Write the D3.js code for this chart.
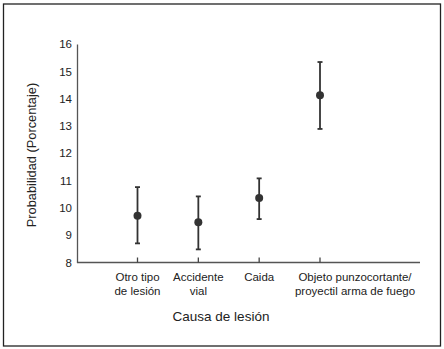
<!DOCTYPE html>
<html>
<head>
<meta charset="utf-8">
<script src="https://cdn.jsdelivr.net/npm/d3@7"></script>
<style>
  body { margin: 0; background: #fff; }
  svg { display: block; font-family: "Liberation Sans", Arial, sans-serif; }
</style>
</head>
<body>
<div id="chart"></div>
<script>
let width = 444;
let height = 349;

// data
let categories = ["Otro tipo|de lesión", "Accidente|vial", "Caida", "Objeto punzocortante/|proyectil arma de fuego"];
let estimates = [9.71, 9.47, 10.36, 14.12];
let lowerCI = [8.70, 8.48, 9.59, 12.89];
let upperCI = [10.76, 10.42, 11.08, 15.34];
let yTicks = [8, 9, 10, 11, 12, 13, 14, 15, 16];

let data = categories.map((c, i) => ({cat: c, est: estimates[i], lo: lowerCI[i], hi: upperCI[i]}));

let axisLeftX = 77, axisRightX = 420;

let y = d3.scaleLinear()
    .domain([8, 16])
    .range([262.5, 44]);

let x = d3.scalePoint()
    .domain(categories)
    .range([137.5, 320]);

let svg = d3.select("#chart")
    .append("svg")
    .attr("width", width)
    .attr("height", height);

// outer frame
svg.append("rect")
    .attr("x", 3.5).attr("y", 4)
    .attr("width", 437).attr("height", 342)
    .attr("fill", "none")
    .attr("stroke", "#222")
    .attr("stroke-width", 1.3);

// y axis
let yAxis = svg.append("g")
    .attr("transform", `translate(${axisLeftX},0)`)
    .call(d3.axisLeft(y).tickValues(yTicks).tickSize(0).tickPadding(5));
yAxis.select(".domain").attr("stroke", "#555").attr("stroke-width", 1.3);
yAxis.selectAll("text").attr("font-size", 11.5).attr("fill", "#222")
    .attr("font-family", "Liberation Sans, Arial, sans-serif");

// x axis: line across, ticks pointing up
svg.append("line")
    .attr("x1", axisLeftX).attr("x2", axisRightX)
    .attr("y1", y(8)).attr("y2", y(8))
    .attr("stroke", "#555").attr("stroke-width", 1.3);

svg.append("g")
    .selectAll("line")
    .data(categories)
    .join("line")
    .attr("x1", d => x(d)).attr("x2", d => x(d))
    .attr("y1", y(8)).attr("y2", y(8) - 5)
    .attr("stroke", "#444").attr("stroke-width", 1.3);

// the long last label sits to the right of its tick
let labelX = (d, i) => i === categories.length - 1 ? x(d) + 35 : x(d);

let xLabels = svg.append("g")
    .selectAll("text")
    .data(categories)
    .join("text")
    .attr("text-anchor", "middle")
    .attr("font-size", 11.5)
    .attr("fill", "#222");
xLabels.each(function(d, i) {
    let lines = d.split("|");
    let lx = labelX(d, i);
    d3.select(this).selectAll("tspan")
        .data(lines)
        .join("tspan")
        .attr("x", lx)
        .attr("y", (l, j) => 281 + j * 14)
        .text(l => l);
});

// error bars
let bars = svg.append("g").attr("stroke", "#333").attr("stroke-width", 1.8);
bars.selectAll(".stem")
    .data(data)
    .join("line")
    .attr("class", "stem")
    .attr("x1", d => x(d.cat)).attr("x2", d => x(d.cat))
    .attr("y1", d => y(d.lo)).attr("y2", d => y(d.hi));
bars.selectAll(".capHi")
    .data(data)
    .join("line")
    .attr("class", "capHi")
    .attr("x1", d => x(d.cat) - 2.5).attr("x2", d => x(d.cat) + 2.5)
    .attr("y1", d => y(d.hi)).attr("y2", d => y(d.hi));
bars.selectAll(".capLo")
    .data(data)
    .join("line")
    .attr("class", "capLo")
    .attr("x1", d => x(d.cat) - 2.5).attr("x2", d => x(d.cat) + 2.5)
    .attr("y1", d => y(d.lo)).attr("y2", d => y(d.lo));

// points
svg.append("g")
    .attr("fill", "#333")
    .selectAll("circle")
    .data(data)
    .join("circle")
    .attr("cx", d => x(d.cat))
    .attr("cy", d => y(d.est))
    .attr("r", 4);

// axis titles
svg.append("text")
    .attr("transform", `translate(36,155) rotate(-90)`)
    .attr("text-anchor", "middle")
    .attr("font-size", 12.8)
    .attr("fill", "#222")
    .text("Probabilidad (Porcentaje)");

svg.append("text")
    .attr("x", 221)
    .attr("y", 321)
    .attr("text-anchor", "middle")
    .attr("font-size", 13.5)
    .attr("fill", "#222")
    .text("Causa de lesión");
</script>
</body>
</html>
